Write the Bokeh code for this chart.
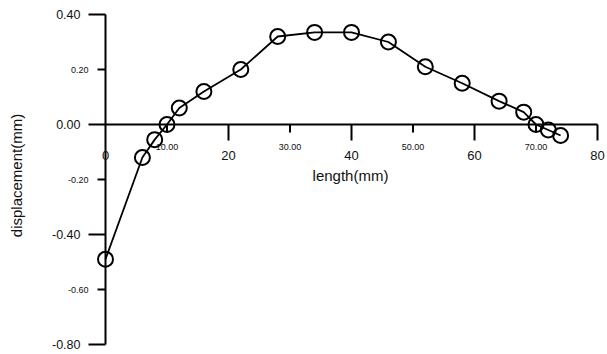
from bokeh.plotting import figure
from bokeh.models import Range1d, ColumnDataSource
from bokeh.embed import file_html
from bokeh.resources import INLINE
from bokeh.core.properties import value
import math

# ---- data ----
length_mm = [0, 6, 8, 10, 12, 16, 22, 28, 34, 40, 46, 52, 58, 64, 68, 70, 72, 74]
displacement_mm = [-0.49, -0.12, -0.055, 0.0, 0.06, 0.12, 0.20, 0.32, 0.335, 0.335,
                   0.30, 0.21, 0.15, 0.085, 0.045, 0.0, -0.02, -0.04]

x_major_ticks = [0, 20, 40, 60, 80]
x_major_labels = ["0", "20", "40", "60", "80"]
x_minor_ticks = [10, 30, 50, 70]
x_minor_labels = ["10.00", "30.00", "50.00", "70.00"]
y_major_ticks = [0.4, 0.0, -0.4, -0.8]
y_major_labels = ["0.40", "0.00", "-0.40", "-0.80"]
y_minor_ticks = [0.2, -0.2, -0.6]
y_minor_labels = ["0.20", "-0.20", "-0.60"]

x_title = "length(mm)"
y_title = "displacement(mm)"

# ---- layout (pixel mapping) ----
W, H = 607, 354
X0PX, Y0PX = 105, 124          # pixel position of the origin
PX_X = (597 - 105) / 80.0      # pixels per mm
PX_Y = 110 / 0.4               # pixels per mm of displacement

def dx(px):  # pixel distance -> data distance along x
    return px / PX_X

def dy(px):
    return px / PX_Y

p = figure(width=W, height=H,
           x_range=Range1d(-dx(X0PX), dx(W - X0PX)),
           y_range=Range1d(-dy(H - Y0PX), dy(Y0PX)),
           x_axis_location=None, y_axis_location=None,
           output_backend="svg", toolbar_location=None, min_border=0)
p.grid.visible = False
p.outline_line_color = None
p.background_fill_color = "white"
p.border_fill_color = "white"

FONT = value("Liberation Sans")

# axis lines
p.segment(x0=[0], y0=[min(y_major_ticks)], x1=[0], y1=[max(y_major_ticks)],
          line_color="black", line_width=2)
p.segment(x0=[0], y0=[0], x1=[max(x_major_ticks)], y1=[0],
          line_color="black", line_width=1.8)

# y ticks
p.segment(x0=[-dx(17)] * len(y_major_ticks), y0=y_major_ticks,
          x1=[0] * len(y_major_ticks), y1=y_major_ticks, line_color="black", line_width=2)
p.segment(x0=[-dx(8)] * len(y_minor_ticks), y0=y_minor_ticks,
          x1=[0] * len(y_minor_ticks), y1=y_minor_ticks, line_color="black", line_width=2)
# x ticks
xt_major = [t for t in x_major_ticks if t != 0]
p.segment(x0=xt_major, y0=[0] * len(xt_major), x1=xt_major, y1=[-dy(16)] * len(xt_major),
          line_color="black", line_width=2)
p.segment(x0=x_minor_ticks, y0=[0] * len(x_minor_ticks), x1=x_minor_ticks,
          y1=[-dy(8)] * len(x_minor_ticks), line_color="black", line_width=2)

# y tick labels
p.text(x=[-dx(25)] * len(y_major_ticks), y=y_major_ticks, text=y_major_labels,
       text_align="right", text_baseline="middle", text_font=FONT,
       text_font_size="12.5px", text_color="#111111")
p.text(x=[-dx(17)] * len(y_minor_ticks), y=y_minor_ticks, text=y_minor_labels,
       text_align="right", text_baseline="middle", text_font=FONT,
       text_font_size="9px", text_color="#111111")
# x tick labels
p.text(x=x_major_ticks, y=[-dy(31)] * len(x_major_ticks), text=x_major_labels,
       text_align="center", text_baseline="middle", text_font=FONT,
       text_font_size="13px", text_color="#111111")
p.text(x=x_minor_ticks, y=[-dy(22)] * len(x_minor_ticks), text=x_minor_labels,
       text_align="center", text_baseline="middle", text_font=FONT,
       text_font_size="9px", text_color="#111111")

# axis titles
p.text(x=[dx(350 - X0PX)], y=[-dy(175 - Y0PX)], text=[x_title],
       text_align="center", text_baseline="middle", text_font=FONT,
       text_font_size="15px", text_color="#111111")
p.text(x=[-dx(X0PX - 16)], y=[-dy(175 - Y0PX)], text=[y_title], angle=math.pi / 2,
       text_align="center", text_baseline="middle", text_font=FONT,
       text_font_size="15px", text_color="#111111")

# data
src = ColumnDataSource(dict(x=length_mm, y=displacement_mm))
p.line("x", "y", source=src, line_color="black", line_width=1.8)
p.scatter("x", "y", source=src, marker="circle", size=15, fill_color=None,
          line_color="black", line_width=2)

open("out.html", "w").write(file_html(p, INLINE))
